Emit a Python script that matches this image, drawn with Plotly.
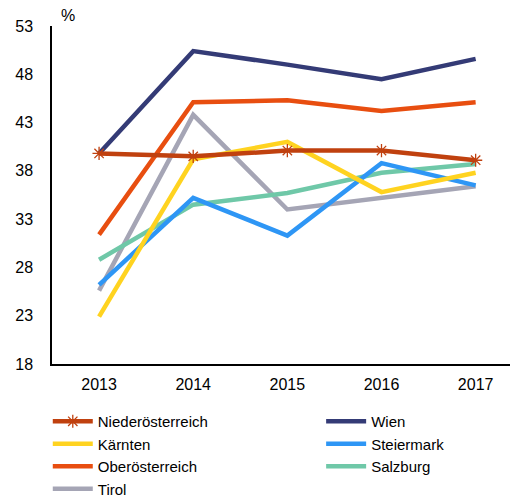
import plotly.graph_objects as go

years = ["2013", "2014", "2015", "2016", "2017"]
niederoesterreich = [39.8, 39.5, 40.1, 40.1, 39.1]
wien = [39.8, 50.4, 49.0, 47.5, 49.6]
kaernten = [22.9, 39.2, 41.0, 35.8, 37.8]
steiermark = [26.2, 35.2, 31.3, 38.8, 36.5]
oberoesterreich = [31.4, 45.1, 45.3, 44.2, 45.1]
salzburg = [28.8, 34.5, 35.7, 37.8, 38.7]
tirol = [25.6, 43.8, 34.0, 35.2, 36.4]
y_ticks = [18, 23, 28, 33, 38, 43, 48, 53]

series = [
    ("Niederösterreich", niederoesterreich, "#C0410F", True, "legend"),
    ("Wien", wien, "#343B76", False, "legend2"),
    ("Kärnten", kaernten, "#FFD320", False, "legend"),
    ("Steiermark", steiermark, "#2E96F5", False, "legend2"),
    ("Oberösterreich", oberoesterreich, "#E84E10", False, "legend"),
    ("Salzburg", salzburg, "#6FC8A8", False, "legend2"),
    ("Tirol", tirol, "#A5A5B5", False, "legend"),
]

fig = go.Figure()
draw_order = ["Tirol", "Salzburg", "Steiermark", "Kärnten", "Oberösterreich", "Wien", "Niederösterreich"]
lookup = {s[0]: s for s in series}
names = [s[0] for s in series]
for name in draw_order:
    name, vals, color, marker, leg = lookup[name]
    fig.add_trace(go.Scatter(
        x=years, y=vals, name=name,
        mode="lines+markers" if marker else "lines",
        line=dict(color=color, width=4.5),
        marker=dict(symbol="asterisk-open", size=11, line=dict(color=color, width=1.3)) if marker else None,
        legendrank=names.index(name) + 1,
        legend=leg,
    ))

legend_common = dict(
    orientation="v", xref="container", yref="container",
    xanchor="left", yanchor="top", y=0.1914,
    font=dict(size=15), tracegroupgap=0, itemwidth=40,
    traceorder="normal", bgcolor="rgba(0,0,0,0)",
)

fig.update_layout(
    width=510, height=491,
    margin=dict(l=44, r=0, t=18, b=135, autoexpand=False),
    paper_bgcolor="white", plot_bgcolor="white",
    font=dict(family="Liberation Sans, Arial, sans-serif", size=16, color="#000"),
    showlegend=True,
    legend=dict(x=0.078, **legend_common),
    legend2=dict(x=0.614, **legend_common),
    xaxis=dict(
        type="category", range=[-0.5, 4.45], showline=True, linecolor="#000", linewidth=1.5,
        showgrid=False, ticks="", ticklabelstandoff=5,
    ),
    yaxis=dict(
        range=[18, 53], tickvals=y_ticks, showline=True, linecolor="#000", linewidth=1.5,
        showgrid=False, zeroline=False, ticks="", ticklabelstandoff=14,
    ),
    annotations=[dict(text="%", x=0.015, y=1.0, xref="paper", yref="paper",
                      xanchor="left", yanchor="bottom", showarrow=False, font=dict(size=16))],
)

fig.write_html("out.html")
